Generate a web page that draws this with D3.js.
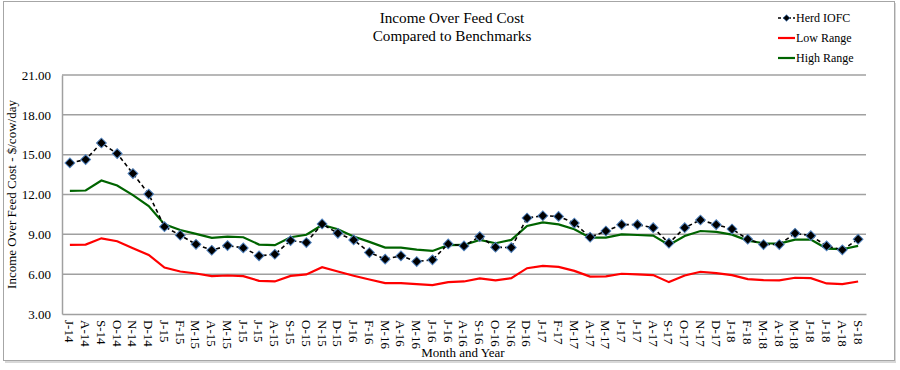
<!DOCTYPE html>
<html><head><meta charset="utf-8">
<script src="https://cdn.jsdelivr.net/npm/d3@7/dist/d3.min.js"></script>
<style>body{margin:0;background:#fff}svg{display:block}text{font-family:"Liberation Serif","Times New Roman",serif;fill:#000}</style>
</head><body>
<svg id="c" width="900" height="370"></svg>
<script>
const months = ["J-14","A-14","S-14","O-14","N-14","D-14","J-15","F-15","M-15","A-15","M-15","J-15","J-15","A-15","S-15","O-15","N-15","D-15","J-16","F-16","M-16","A-16","M-16","J-16","J-16","A-16","S-16","O-16","N-16","D-16","J-17","F-17","M-17","A-17","M-17","J-17","J-17","A-17","S-17","O-17","N-17","D-17","J-18","F-18","M-18","A-18","M-18","J-18","J-18","A-18","S-18"];
const herdIOFC = [14.38,14.63,15.88,15.08,13.58,12.03,9.58,8.93,8.25,7.8,8.15,7.98,7.38,7.5,8.53,8.38,9.78,9.08,8.58,7.63,7.13,7.38,6.95,7.08,8.28,8.13,8.83,8.03,8.0,10.23,10.4,10.35,9.85,8.78,9.25,9.73,9.73,9.5,8.33,9.5,10.08,9.73,9.4,8.63,8.23,8.23,9.08,8.9,8.13,7.83,8.63];
const lowRange = [8.2,8.23,8.7,8.48,7.95,7.45,6.5,6.2,6.05,5.85,5.9,5.85,5.5,5.45,5.87,5.98,6.53,6.2,5.88,5.6,5.33,5.33,5.25,5.18,5.4,5.45,5.68,5.53,5.7,6.45,6.63,6.55,6.25,5.82,5.83,6.03,5.98,5.93,5.4,5.9,6.18,6.08,5.93,5.63,5.55,5.53,5.73,5.7,5.3,5.25,5.45];
const highRange = [12.28,12.3,13.05,12.68,11.95,11.13,9.75,9.33,9.03,8.73,8.83,8.78,8.23,8.18,8.78,8.97,9.7,9.38,8.83,8.43,8.0,8.0,7.85,7.75,8.18,8.2,8.58,8.33,8.58,9.63,9.9,9.75,9.38,8.75,8.75,9.0,8.95,8.9,8.2,8.88,9.25,9.18,8.98,8.53,8.33,8.3,8.6,8.6,7.93,7.88,8.13];
const yTicks = [3,6,9,12,15,18,21];

const svg = d3.select("#c");
// frame
svg.append("rect").attr("x",5).attr("y",3).attr("width",891).attr("height",360).attr("fill","#d8d8d8");
svg.append("rect").attr("x",3.5).attr("y",1.5).attr("width",891).attr("height",359).attr("fill","#fff").attr("stroke","#a6a6a6").attr("stroke-width",1);

const L=62,R=866,T=75,B=314;
const x = d3.scaleBand().domain(d3.range(months.length)).range([L,R]).padding(0);
const cx = i => x(i)+x.bandwidth()/2;
const y = d3.scaleLinear().domain([3,21]).range([B,T]);

// grid
svg.append("g").selectAll("line").data(yTicks.filter(d=>d>3)).join("line")
  .attr("x1",L).attr("x2",R).attr("y1",d=>y(d)).attr("y2",d=>y(d))
  .attr("stroke","#a0a0a0").attr("stroke-width",1.5);

// y axis
const ya = svg.append("g").attr("transform",`translate(${L},0)`)
  .call(d3.axisLeft(y).tickValues(yTicks).tickFormat(d3.format(".2f")).tickSize(0).tickPadding(11));
ya.select(".domain").attr("stroke","#a0a0a0").attr("stroke-width",1.5);
ya.selectAll("text").attr("font-size",13).style("font-family","'Liberation Serif',serif");

// x axis
const xa = svg.append("g").attr("transform",`translate(0,${B})`)
  .call(d3.axisBottom(x).tickFormat(i=>months[i]).tickSize(0));
xa.select(".domain").attr("stroke","#a0a0a0").attr("stroke-width",1.5);
xa.selectAll("text").attr("font-size",13).style("font-family","'Liberation Serif',serif")
  .attr("transform","rotate(90)").attr("text-anchor","start").attr("x",6).attr("y",0).attr("dy","0.35em");

const line = arr => d3.line().x((d,i)=>cx(i)).y(d=>y(d))(arr);
svg.append("path").attr("d",line(highRange)).attr("fill","none").attr("stroke","#006400").attr("stroke-width",2.2);
svg.append("path").attr("d",line(lowRange)).attr("fill","none").attr("stroke","#ff0000").attr("stroke-width",2.2);
svg.append("path").attr("d",line(herdIOFC)).attr("fill","none").attr("stroke","#000").attr("stroke-width",1.6).attr("stroke-dasharray","4,3");
const dia = d3.symbol().type(d3.symbolSquare).size(48);
svg.append("g").selectAll("path").data(herdIOFC).join("path")
  .attr("d",dia).attr("transform",(d,i)=>`translate(${cx(i)},${y(d)}) rotate(45)`)
  .attr("fill","#000").attr("stroke","#4f81bd").attr("stroke-width",1);

// titles
svg.append("text").attr("x",452).attr("y",23).attr("text-anchor","middle").attr("font-size",15.2).text("Income Over Feed Cost");
svg.append("text").attr("x",452).attr("y",41).attr("text-anchor","middle").attr("font-size",15.2).text("Compared to Benchmarks");
svg.append("text").attr("transform",`translate(16,${(T+B)/2}) rotate(-90)`).attr("text-anchor","middle").attr("font-size",13).text("Income Over Feed Cost - $/cow/day");
svg.append("text").attr("x",463).attr("y",357).attr("text-anchor","middle").attr("font-size",13).text("Month and Year");

// legend
const leg = [{n:"Herd IOFC",c:"#000",d:true},{n:"Low Range",c:"#ff0000"},{n:"High Range",c:"#006400"}];
const lg = svg.append("g");
leg.forEach((s,k)=>{
  const yy = 18 + k*20;
  lg.append("line").attr("x1",778).attr("x2",795).attr("y1",yy).attr("y2",yy).attr("stroke",s.c)
    .attr("stroke-width",s.d?1.6:2.2).attr("stroke-dasharray",s.d?"3,2":null);
  if(s.d) lg.append("path").attr("d",d3.symbol().type(d3.symbolSquare).size(22)).attr("transform",`translate(786.5,${yy}) rotate(45)`).attr("fill","#000").attr("stroke","#4f81bd").attr("stroke-width",0.8);
  lg.append("text").attr("x",796).attr("y",yy).attr("dy","0.35em").attr("font-size",12).text(s.n);
});
</script>
</body></html>
